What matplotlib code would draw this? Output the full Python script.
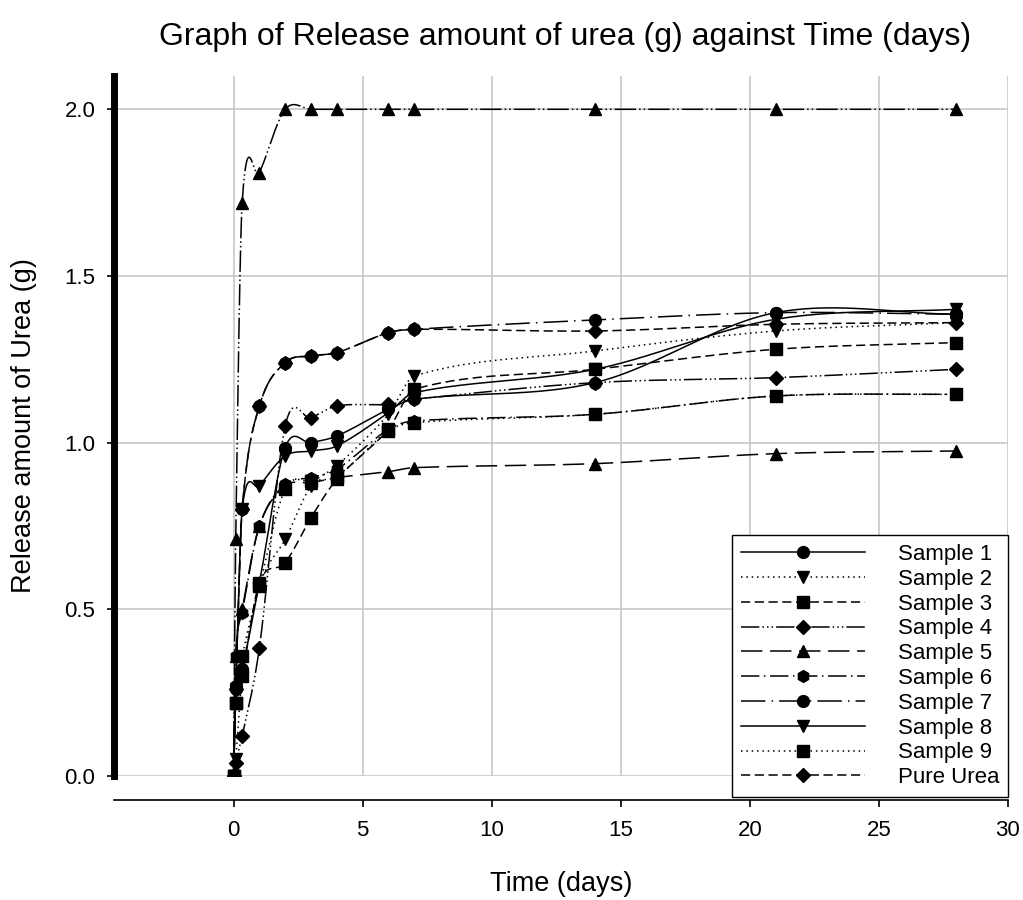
import numpy as np
import matplotlib
matplotlib.use("Agg")
import matplotlib.pyplot as plt

plt.rcParams['font.family'] = ['Liberation Sans', 'DejaVu Sans']

# ---------------- data ----------------
time_days = [0, 0.083, 0.333, 1, 2, 3, 4, 6, 7, 14, 21, 28]

sample1 = [0, 0.27, 0.32, 0.58, 0.985, 1.00, 1.02, 1.10, 1.13, 1.18, 1.39, 1.385]
sample2 = [0, 0.05, 0.30, 0.57, 0.71, 0.87, 0.93, 1.085, 1.20, 1.275, 1.335, 1.36]
sample3 = [0, 0.22, 0.30, 0.58, 0.64, 0.775, 0.89, 1.04, 1.16, 1.22, 1.28, 1.30]
sample4 = [0, 0.04, 0.12, 0.385, 1.05, 1.075, 1.11, 1.115, 1.13, 1.18, 1.195, 1.22]
sample5 = [0, 0.36, 0.50, 0.75, 0.87, 0.88, 0.895, 0.913, 0.925, 0.937, 0.967, 0.975]
sample6 = [0, 0.36, 0.49, 0.75, 0.875, 0.895, 0.92, 1.04, 1.065, 1.085, 1.14, 1.145]
sample7 = [0, 0.26, 0.80, 1.11, 1.24, 1.26, 1.27, 1.33, 1.34, 1.368, 1.39, 1.385]
sample8 = [0, 0.26, 0.80, 0.87, 0.96, 0.975, 0.99, 1.09, 1.15, 1.22, 1.37, 1.40]
sample9 = [0, 0.22, 0.36, 0.57, 0.86, 0.885, 0.90, 1.035, 1.06, 1.085, 1.14, 1.145]
pure_urea = [0, 0.26, 0.80, 1.11, 1.24, 1.26, 1.27, 1.33, 1.34, 1.335, 1.355, 1.36]
top_series = [0, 0.71, 1.72, 1.81, 2.0, 2.0, 2.0, 2.0, 2.0, 2.0, 2.0, 2.0]

# (data, label, marker, linestyle)
series = [
    (top_series, '_nolegend_', '^', (0, (14, 2, 1, 2, 1, 2))),
    (sample1, 'Sample 1', 'o', '-'),
    (sample2, 'Sample 2', 'v', (0, (1, 2.5))),
    (sample3, 'Sample 3', 's', (0, (6, 3))),
    (sample4, 'Sample 4', 'D', (0, (12, 2, 1, 2, 1, 2, 1, 2))),
    (sample5, 'Sample 5', '^', (0, (14, 5))),
    (sample6, 'Sample 6', 'h', (0, (12, 3, 1, 3))),
    (sample7, 'Sample 7', 'o', (0, (16, 4, 1, 4))),
    (sample8, 'Sample 8', 'v', '-'),
    (sample9, 'Sample 9', 's', (0, (1, 2.5))),
    (pure_urea, 'Pure Urea', 'D', (0, (6, 3))),
]


def smooth_curve(x, y, per_seg=60):
    # cubic Hermite through the points with finite-difference tangents
    x = np.asarray(x, float)
    y = np.asarray(y, float)
    m = np.zeros_like(y)
    m[1:-1] = (y[2:] - y[:-2]) / (x[2:] - x[:-2])
    m[0] = (y[1] - y[0]) / (x[1] - x[0])
    m[-1] = (y[-1] - y[-2]) / (x[-1] - x[-2])
    xs_all, ys_all = [], []
    for i in range(len(x) - 1):
        h = x[i + 1] - x[i]
        t = np.linspace(0, 1, per_seg)
        h00 = 2 * t ** 3 - 3 * t ** 2 + 1
        h10 = t ** 3 - 2 * t ** 2 + t
        h01 = -2 * t ** 3 + 3 * t ** 2
        h11 = t ** 3 - t ** 2
        xs_all.append(x[i] + t * h)
        ys_all.append(h00 * y[i] + h10 * h * m[i] + h01 * y[i + 1] + h11 * h * m[i + 1])
    return np.concatenate(xs_all), np.concatenate(ys_all)


#__________________  FIGURE  _____________________#

fig = plt.figure(figsize=(10.23, 9.0), dpi=100)
ax = fig.add_axes([0.111, 0.1378, 0.8743, 0.7778])

handles = []
for data, label, mk, ls in series:
    ms = 8.5 if mk != 'D' else 7.5
    xs, ys = smooth_curve(time_days, data)
    ax.plot(xs, ys, color='black', linestyle=ls, linewidth=1.1, zorder=3)
    ax.plot(time_days, data, linestyle='none', marker=mk, color='black',
            markersize=ms, zorder=4)
    if not label.startswith('_'):
        h, = ax.plot([], [], color='black', linestyle=ls, linewidth=1.1,
                     marker=mk, markersize=ms, label=label)
        handles.append(h)

ax.set_xlim(-4.65, 30)
ax.set_ylim(0, 2.1)
ax.set_xticks([0, 5, 10, 15, 20, 25, 30])
ax.set_yticks([0.0, 0.5, 1.0, 1.5, 2.0])
ax.set_yticklabels(['0.0', '0.5', '1.0', '1.5', '2.0'])
ax.grid(True, color='#c8c8c8', linewidth=1.2, zorder=0)
ax.set_axisbelow(True)

for s in ['top', 'right']:
    ax.spines[s].set_visible(False)
ax.spines['left'].set_linewidth(5)
ax.spines['bottom'].set_position(('outward', 17))
ax.spines['bottom'].set_linewidth(1.2)
ax.tick_params(axis='both', labelsize=16, direction='out', length=5, width=1.2)
ax.tick_params(axis='x', pad=10)
ax.tick_params(axis='y', pad=8)

ax.set_xlabel('Time (days)', fontsize=19.5, labelpad=21)
ax.set_ylabel('Release amount of Urea (g)', fontsize=19.5, labelpad=20)
fig.text(0.552, 1 - 37 / 900, 'Graph of Release amount of urea (g) against Time (days)',
         fontsize=23, ha='center', va='center')

leg = ax.legend(handles=handles, loc='lower right', bbox_to_anchor=(0.9853, 0.1144),
                bbox_transform=fig.transFigure, fontsize=16, frameon=True,
                fancybox=False, edgecolor='black', framealpha=1, borderaxespad=0,
                handlelength=5.6, handletextpad=1.45, labelspacing=0.17,
                borderpad=0.4, numpoints=1)
leg.get_frame().set_linewidth(1.0)
leg.set_zorder(10)

fig.savefig('out.png', dpi=100)
print("---------  Program ends ----------")
